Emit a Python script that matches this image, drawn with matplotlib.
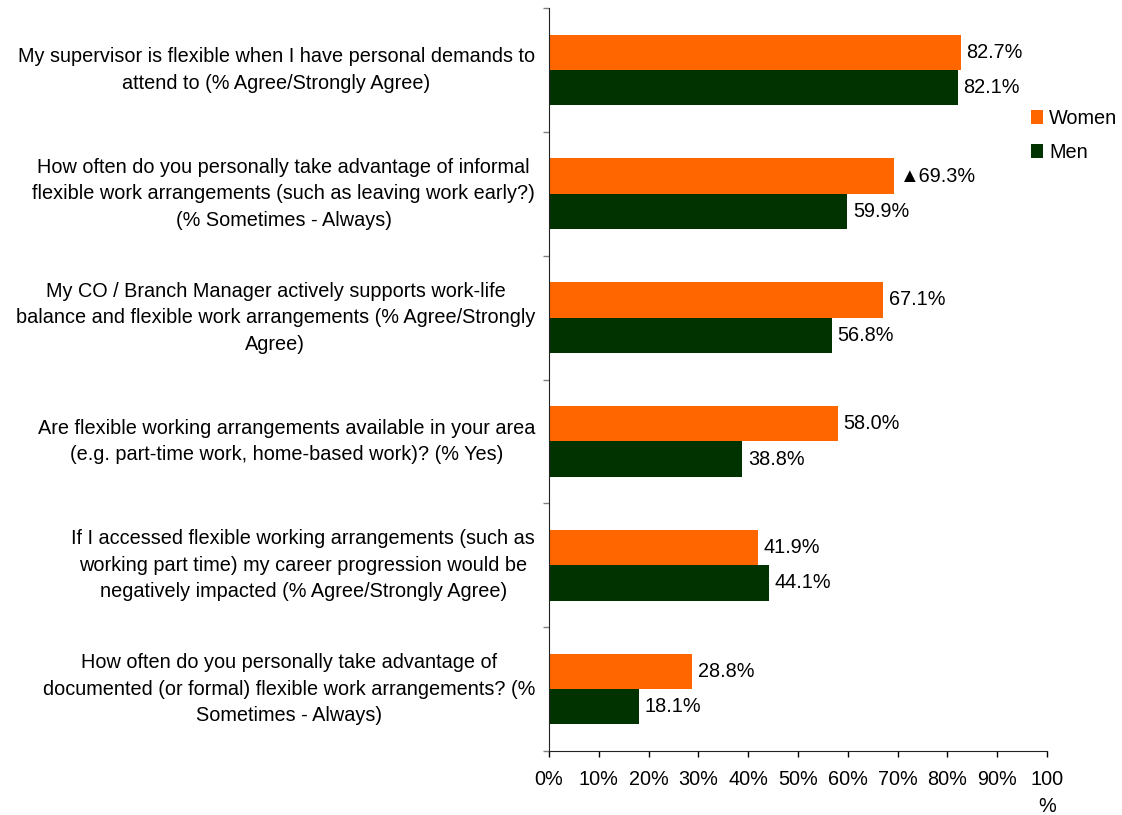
import numpy as np
import matplotlib.pyplot as plt

plt.rcParams['font.family'] = ['Liberation Sans', 'DejaVu Sans']

questions = [
    "My supervisor is flexible when I have personal demands to\nattend to (% Agree/Strongly Agree)",
    "How often do you personally take advantage of informal\nflexible work arrangements (such as leaving work early?)\n(% Sometimes - Always)",
    "My CO / Branch Manager actively supports work-life\nbalance and flexible work arrangements (% Agree/Strongly\nAgree)",
    "Are flexible working arrangements available in your area\n(e.g. part-time work, home-based work)? (% Yes)",
    "If I accessed flexible working arrangements (such as\nworking part time) my career progression would be\nnegatively impacted (% Agree/Strongly Agree)",
    "How often do you personally take advantage of\ndocumented (or formal) flexible work arrangements? (%\nSometimes - Always)",
]
women = [82.7, 69.3, 67.1, 58.0, 41.9, 28.8]
men = [82.1, 59.9, 56.8, 38.8, 44.1, 18.1]
# significant difference marker on the women's value
women_flag = [False, True, False, False, False, False]
xticks = [0, 10, 20, 30, 40, 50, 60, 70, 80, 90, 100]
xtick_labels = ["0%", "10%", "20%", "30%", "40%", "50%", "60%", "70%", "80%", "90%", "100\n%"]

orange = "#FF6600"
green = "#003300"
fs = 14.3

fig = plt.figure(figsize=(11.22, 8.15), dpi=100)
ax = fig.add_axes([549 / 1122, 1 - 751 / 815, (1047 - 549) / 1122, (751 - 8) / 815])

n = len(questions)
y = np.arange(n)
h = 0.285
ax.barh(y - h / 2, women, height=h, color=orange, label="Women")
ax.barh(y + h / 2, men, height=h, color=green, label="Men")

for i in range(n):
    if women_flag[i]:
        txt = "\u25b2" + f"{women[i]:.1f}%"
    else:
        txt = f"{women[i]:.1f}%"
    ax.annotate(txt, (women[i], y[i] - h / 2), xytext=(4, 0), textcoords="offset points",
                va="center", ha="left", fontsize=fs)
    ax.annotate(f"{men[i]:.1f}%", (men[i], y[i] + h / 2), xytext=(4, 0), textcoords="offset points",
                va="center", ha="left", fontsize=fs)

ax.set_xlim(0, 100)
ax.set_ylim(n - 0.5, -0.5)
ax.set_xticks(xticks)
ax.set_xticklabels(xtick_labels, fontsize=fs, va="top", linespacing=1.5)
ax.tick_params(axis="x", length=4, width=1, pad=10, color="black")

# category boundary ticks on the y axis, labels placed in the middle of each band
ax.set_yticks(np.arange(n + 1) - 0.5)
ax.set_yticklabels([])
ax.tick_params(axis="y", length=4, width=1, color="#808080")
for i, q in enumerate(questions):
    ax.annotate(q, (0, y[i]), xycoords=("axes fraction", "data"), xytext=(-10, 0),
                textcoords="offset points", ha="right", va="center", multialignment="center",
                fontsize=fs, linespacing=1.5)

for s in ["top", "right"]:
    ax.spines[s].set_visible(False)
ax.spines["left"].set_color("#222222")
ax.spines["bottom"].set_color("#222222")

ax.legend(loc="upper left", bbox_to_anchor=(0.952, 0.875), frameon=False, fontsize=fs,
          handlelength=0.6, handleheight=0.7, handletextpad=0.3, labelspacing=0.75,
          borderaxespad=0)

fig.savefig("out.png", dpi=100)
